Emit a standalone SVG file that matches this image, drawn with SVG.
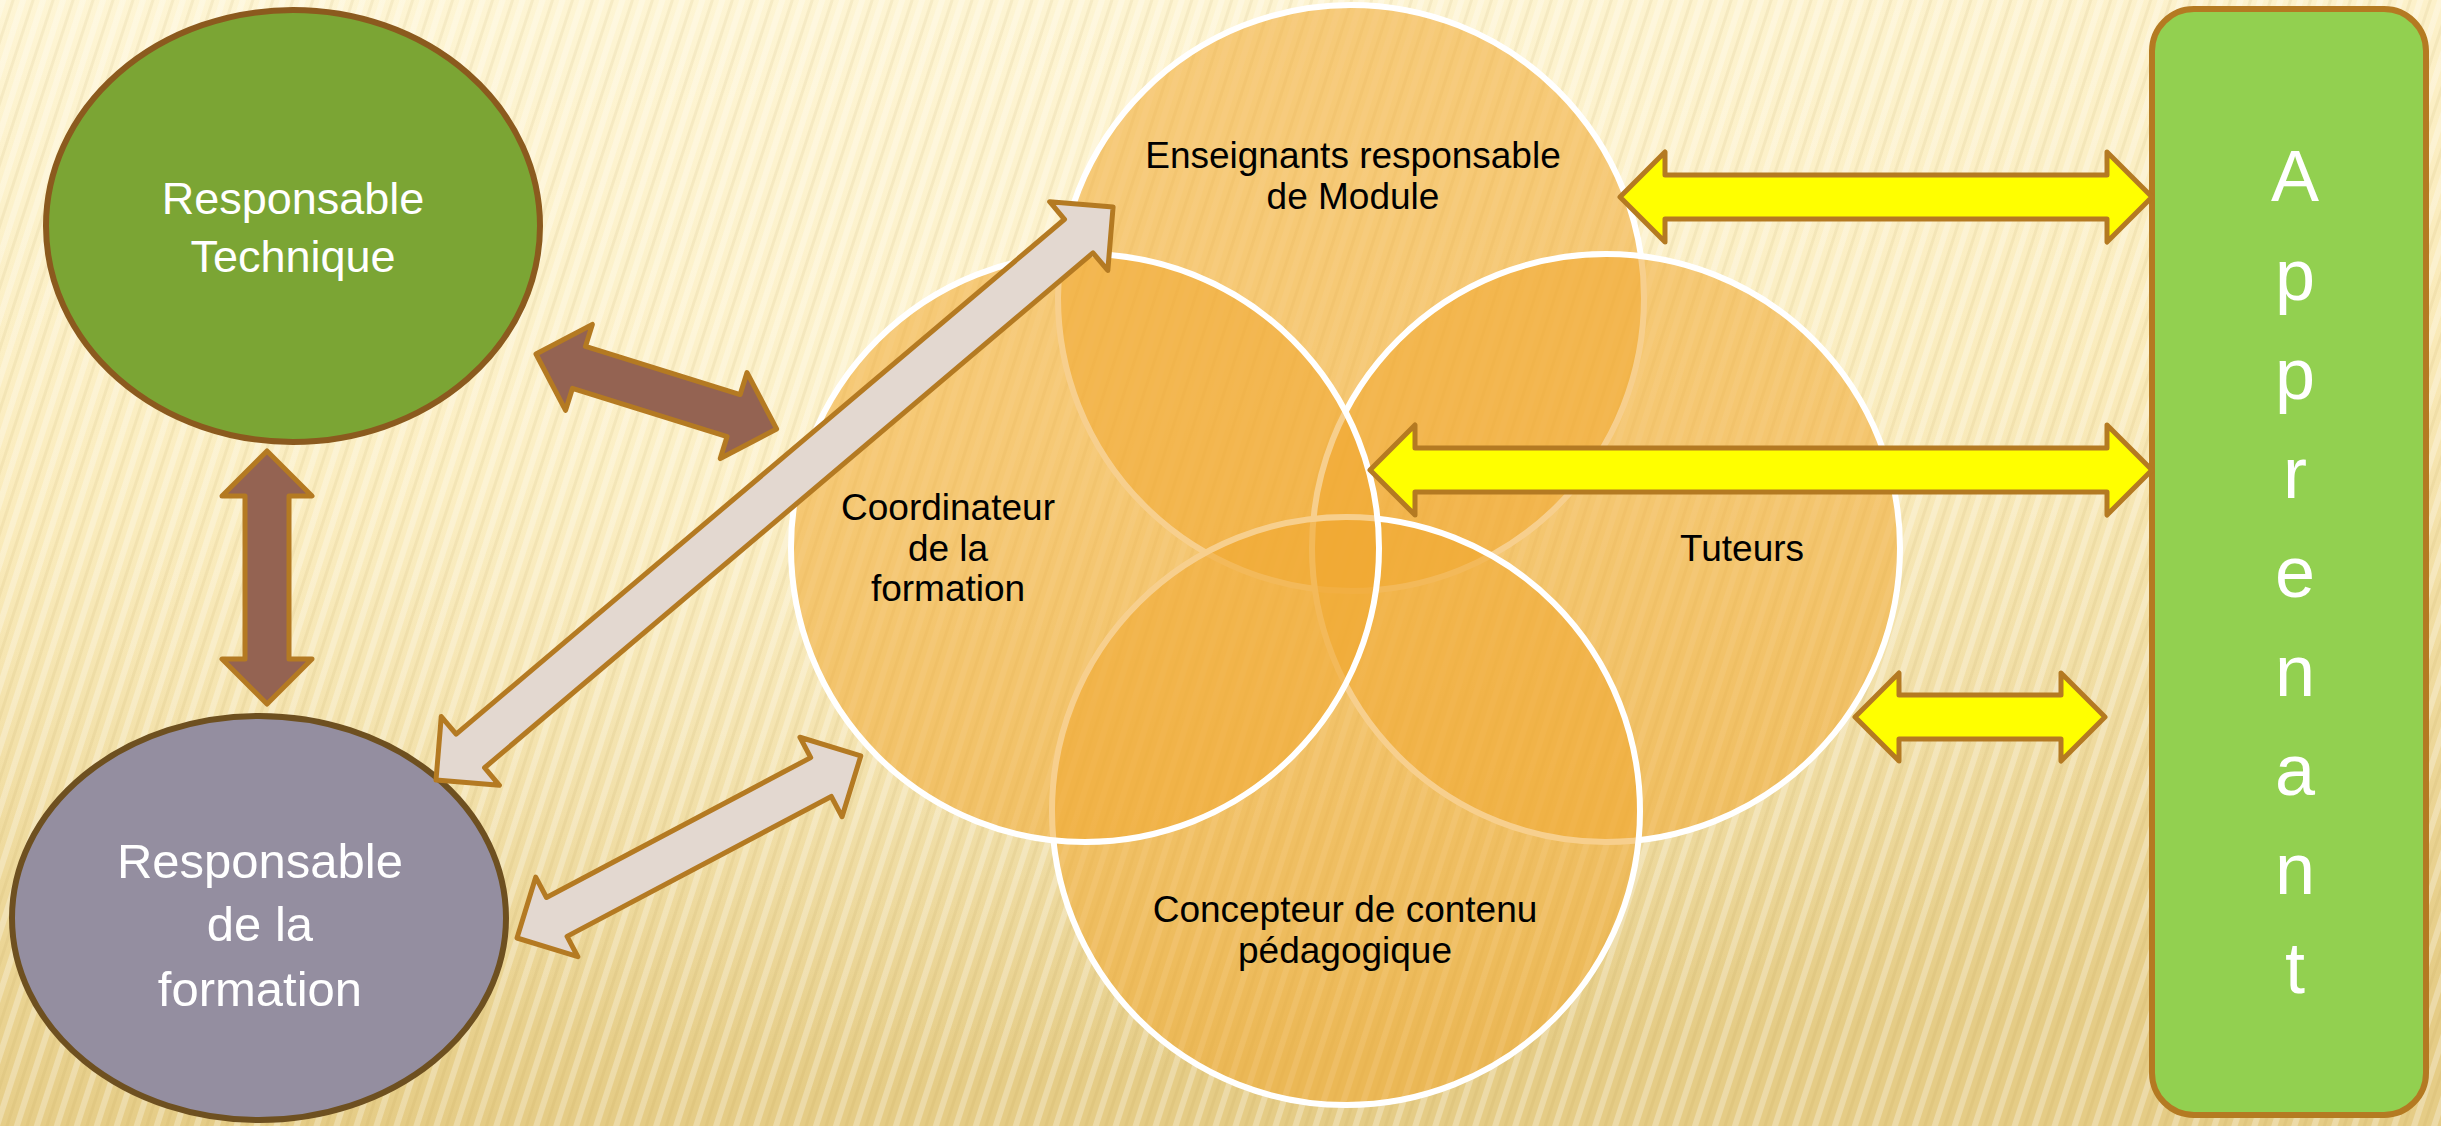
<svg xmlns="http://www.w3.org/2000/svg" width="2441" height="1126" viewBox="0 0 2441 1126">
  <defs>
    <linearGradient id="bg" x1="0" y1="0" x2="0.15" y2="1">
      <stop offset="0" stop-color="#FEF5D4"/>
      <stop offset="0.45" stop-color="#F9E9B6"/>
      <stop offset="1" stop-color="#E5CC86"/>
    </linearGradient>
    <radialGradient id="glow" cx="0.42" cy="0.35" r="0.6">
      <stop offset="0" stop-color="#FFF8DC" stop-opacity="0.55"/>
      <stop offset="1" stop-color="#FFF8DC" stop-opacity="0"/>
    </radialGradient>
    <pattern id="stripes" width="19" height="40" patternUnits="userSpaceOnUse" patternTransform="rotate(18)">
      <rect x="0" y="0" width="6" height="40" fill="#FFFFFF" opacity="0.28"/>
      <rect x="11" y="0" width="3" height="40" fill="#B8954A" opacity="0.10"/>
    </pattern>
    <style>
      .arrow { stroke: #B47A22; stroke-width: 5; stroke-linejoin: round; }
      .brown { fill: #946352; }
      .beige { fill: #E3D8D0; }
      .yellow { fill: #FFFF00; }
      .venn { fill: #F0A830; fill-opacity: 0.55; stroke: #FFFFFF; stroke-width: 6; }
      .wt { font-family: "Liberation Sans", Arial, sans-serif; fill: #FFFFFF; text-anchor: middle; }
      .bt { font-family: "Liberation Sans", Arial, sans-serif; fill: #000000; text-anchor: middle; font-size: 37px; }
    </style>
  </defs>

  <rect x="0" y="0" width="2441" height="1126" fill="url(#bg)"/>
  <rect x="0" y="0" width="2441" height="1126" fill="url(#glow)"/>
  <rect x="0" y="0" width="2441" height="1126" fill="url(#stripes)"/>

  <g id="node-responsable-technique">
    <ellipse cx="293" cy="226" rx="247" ry="216" fill="#7BA534" stroke="#8B5A1E" stroke-width="6"/>
    <text class="wt" font-size="45" x="293" y="214">Responsable</text>
    <text class="wt" font-size="45" x="293" y="272">Technique</text>
  </g>

  <g id="node-responsable-formation">
    <ellipse cx="259" cy="918" rx="247" ry="202" fill="#948EA0" stroke="#6E5020" stroke-width="6"/>
    <text class="wt" font-size="49" x="260" y="878">Responsable</text>
    <text class="wt" font-size="49" x="260" y="941">de la</text>
    <text class="wt" font-size="49" x="260" y="1006">formation</text>
  </g>

  <g id="venn">
    <g id="node-enseignants">
      <circle class="venn" cx="1351" cy="298" r="293"/>
    </g>
    <g id="node-tuteurs">
      <circle class="venn" cx="1606" cy="548" r="294"/>
    </g>
    <g id="node-concepteur">
      <circle class="venn" cx="1346" cy="811" r="294"/>
    </g>
    <g id="node-coordinateur">
      <circle class="venn" cx="1085" cy="548" r="294"/>
    </g>
    <g id="venn-labels">
      <text class="bt" x="1353" y="168">Enseignants responsable</text>
      <text class="bt" x="1353" y="209">de Module</text>
      <text class="bt" x="948" y="520">Coordinateur</text>
      <text class="bt" x="948" y="561">de la</text>
      <text class="bt" x="948" y="601">formation</text>
      <text class="bt" x="1742" y="561">Tuteurs</text>
      <text class="bt" x="1345" y="922">Concepteur de contenu</text>
      <text class="bt" x="1345" y="963">pédagogique</text>
    </g>
  </g>

  <g id="node-apprenant">
    <rect x="2152" y="9" width="274" height="1106" rx="42" ry="42" fill="#92D050" stroke="#B47A22" stroke-width="6"/>
    <g class="wt" font-size="72">
      <text x="2295" y="201">A</text>
      <text x="2295" y="300">p</text>
      <text x="2295" y="399">p</text>
      <text x="2295" y="498">r</text>
      <text x="2295" y="597">e</text>
      <text x="2295" y="696">n</text>
      <text x="2295" y="795">a</text>
      <text x="2295" y="894">n</text>
      <text x="2295" y="993">t</text>
    </g>
  </g>

  <g id="connectors">
    <path class="arrow brown" transform="translate(267,451) rotate(90)" d="M0,0 L45,-45 L45,-22 L208,-22 L208,-45 L253,0 L208,45 L208,22 L45,22 L45,45 Z"/>
    <path class="arrow brown" transform="translate(536,354) rotate(17.3)" d="M0,0 L45,-45 L45,-22 L207,-22 L207,-45 L252,0 L207,45 L207,22 L45,22 L45,45 Z"/>
    <path class="arrow beige" transform="translate(436,780) rotate(-40.24)" d="M0,0 L45,-45 L45,-22 L842,-22 L842,-45 L887,0 L842,45 L842,22 L45,22 L45,45 Z"/>
    <path class="arrow beige" transform="translate(517,938) rotate(-27.9)" d="M0,0 L45,-45 L45,-22 L344,-22 L344,-45 L389,0 L344,45 L344,22 L45,22 L45,45 Z"/>
    <path class="arrow yellow" transform="translate(1620,197)" d="M0,0 L45,-45 L45,-22 L487,-22 L487,-45 L532,0 L487,45 L487,22 L45,22 L45,45 Z"/>
    <path class="arrow yellow" transform="translate(1370,470)" d="M0,0 L45,-45 L45,-22 L737,-22 L737,-45 L782,0 L737,45 L737,22 L45,22 L45,45 Z"/>
    <path class="arrow yellow" transform="translate(1855,717)" d="M0,0 L44,-44 L44,-22 L206,-22 L206,-44 L250,0 L206,44 L206,22 L44,22 L44,44 Z"/>
  </g>
</svg>
